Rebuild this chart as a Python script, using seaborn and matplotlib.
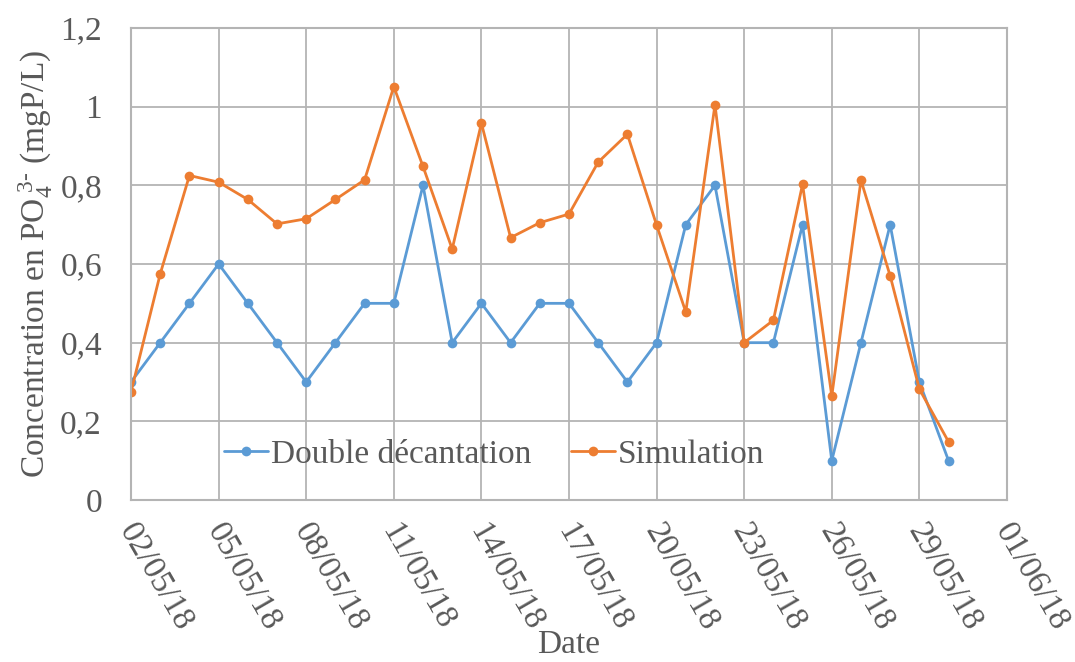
import matplotlib
matplotlib.use("Agg")
import matplotlib.pyplot as plt
import matplotlib.transforms as mtransforms
import seaborn as sns
import pandas as pd

dates = pd.date_range("2018-05-02", "2018-05-30", freq="D")
double_decantation = [0.3, 0.4, 0.5, 0.6, 0.5, 0.4, 0.3, 0.4, 0.5, 0.5, 0.8, 0.4, 0.5, 0.4,
                      0.5, 0.5, 0.4, 0.3, 0.4, 0.7, 0.8, 0.4, 0.4, 0.7, 0.1, 0.4, 0.7, 0.3, 0.1]
simulation = [0.275, 0.575, 0.825, 0.808, 0.764, 0.702, 0.715, 0.764, 0.814, 1.051, 0.848, 0.638,
              0.958, 0.667, 0.705, 0.727, 0.859, 0.930, 0.699, 0.478, 1.005, 0.40, 0.457, 0.803,
              0.264, 0.813, 0.570, 0.282, 0.148]
series_names = ["Double décantation", "Simulation"]
y_ticks = [0, 0.2, 0.4, 0.6, 0.8, 1.0, 1.2]
y_tick_labels = ["0", "0,2", "0,4", "0,6", "0,8", "1", "1,2"]

df = pd.DataFrame({
    "Date": list(dates) * 2,
    "value": double_decantation + simulation,
    "serie": [series_names[0]] * len(dates) + [series_names[1]] * len(dates),
})

sns.set_style("white")
plt.rcParams["font.family"] = ["Liberation Serif", "DejaVu Serif"]
plt.rcParams["mathtext.fontset"] = "custom"
plt.rcParams["mathtext.rm"] = "Liberation Serif"
plt.rcParams["mathtext.it"] = "Liberation Serif:italic"

text_color = "#595959"
grid_color = "#b4b4b4"
fs = 24

fig = plt.figure(figsize=(10.75, 6.62), dpi=100)
ax = fig.add_axes([0.1219, 0.2447, 0.8148, 0.713])

sns.lineplot(data=df, x="Date", y="value", hue="serie", palette=["#5B9BD5", "#ED7D31"],
             marker="o", markersize=7, markeredgewidth=0, linewidth=2, ax=ax)

ax.set_ylim(0, 1.2)
ax.set_xlim(pd.Timestamp("2018-05-02"), pd.Timestamp("2018-06-01"))
ax.set_yticks(y_ticks)
ax.set_yticklabels(y_tick_labels)
xt = pd.date_range("2018-05-02", "2018-06-01", freq="3D")
ax.set_xticks(xt)
ax.set_xticklabels([d.strftime("%d/%m/%y") for d in xt], rotation=-60,
                   ha="left", va="top", rotation_mode="anchor")
ax.tick_params(axis="both", labelsize=fs, colors=text_color, length=0)
ax.tick_params(axis="x", pad=13)
ax.tick_params(axis="y", pad=21)
offset = mtransforms.ScaledTranslation(8 / 100, 0, fig.dpi_scale_trans)
for lab in ax.get_xticklabels():
    lab.set_transform(lab.get_transform() + offset)

ax.grid(True, color=grid_color, linewidth=1.3)
ax.set_axisbelow(True)
for s in ax.spines.values():
    s.set_color(grid_color)
    s.set_linewidth(1.5)

ax.set_xlabel("Date", fontsize=fs, color=text_color)
ax.xaxis.set_label_coords(0.5, -0.274)
ax.set_ylabel(r"Concentration en PO$_4^{\ 3\text{-}}$ (mgP/L)", fontsize=fs, color=text_color, labelpad=4)

leg = ax.legend(loc="lower center", bbox_to_anchor=(0.415, 0.0), ncol=2, frameon=False,
                fontsize=fs, handlelength=1.3, handletextpad=0.1, columnspacing=1.2,
                labelcolor=text_color)
for h in leg.legend_handles:
    h.set_markersize(7)

fig.savefig("out.png", dpi=100)
